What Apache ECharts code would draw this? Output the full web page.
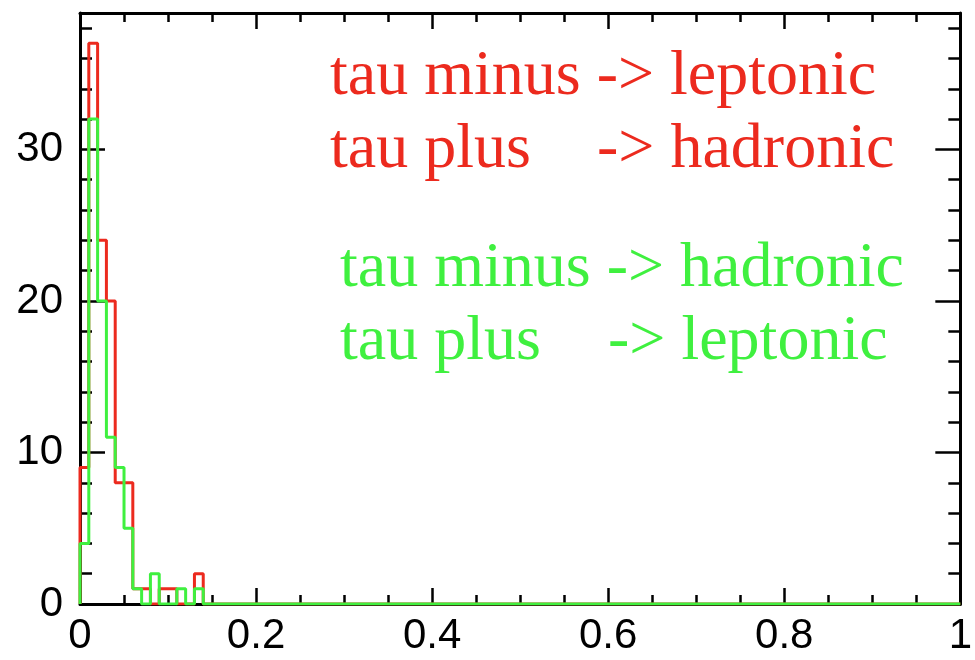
<!DOCTYPE html>
<html>
<head>
<meta charset="utf-8">
<script src="https://cdn.jsdelivr.net/npm/echarts@6/dist/echarts.min.js"></script>
<style>
  html, body { margin: 0; padding: 0; background: #ffffff; }
  #chart { width: 975px; height: 660px; }
</style>
</head>
<body>
<div id="chart"></div>
<script>
// Histogram bins (width 0.01); everything past the last bin is empty up to x = 1.
const binWidth = 0.01;
const binStarts = [0.00, 0.01, 0.02, 0.03, 0.04, 0.05, 0.06, 0.07, 0.08, 0.09, 0.10, 0.11, 0.12, 0.13];
// tau- -> leptonic, tau+ -> hadronic
const redCounts = [9, 37, 24, 20, 8, 8, 1, 1, 0, 1, 1, 0, 0, 2];
// tau- -> hadronic, tau+ -> leptonic
const greenCounts = [4, 32, 20, 11, 9, 5, 1, 0, 2, 0, 0, 1, 0, 1];

const xRange = [0, 1];
const yRange = [0, 39];

const RED = '#ec2a1e';
const GREEN = '#3ff03f';

// Step outline of a histogram: rise from zero at the first edge, one level per bin,
// back to zero after the last bin and flat to the end of the axis.
function stepPoints(starts, counts) {
  const pts = [[starts[0], 0]];
  starts.forEach((s, i) => pts.push([s, counts[i]]));
  pts.push([starts[starts.length - 1] + binWidth, 0]);
  pts.push([xRange[1], 0]);
  return pts;
}

const tickStyle = { color: '#000', width: 2.5 };
const lineStyleAxis = { color: '#000', width: 3 };
const labelFont = { color: '#000', fontFamily: 'Liberation Sans', fontSize: 42 };

function xAxisDef(position, withLabels) {
  return {
    type: 'value', position: position, min: xRange[0], max: xRange[1], interval: 0.2,
    axisLine: { show: true, onZero: false, lineStyle: lineStyleAxis },
    axisTick: { show: true, inside: true, length: 16, lineStyle: tickStyle },
    minorTick: { show: true, splitNumber: 4, length: 9, lineStyle: tickStyle },
    axisLabel: withLabels ? Object.assign({ show: true, margin: 11 }, labelFont) : { show: false },
    splitLine: { show: false }, minorSplitLine: { show: false }
  };
}

function yAxisDef(position, interval, tickLen, withLine, withLabels) {
  return {
    type: 'value', position: position, min: yRange[0], max: yRange[1], interval: interval,
    axisLine: { show: withLine, onZero: false, lineStyle: lineStyleAxis },
    axisTick: { show: true, inside: true, length: tickLen, lineStyle: tickStyle },
    axisLabel: withLabels ? Object.assign({
      show: true, margin: 17,
      formatter: v => (v % 10 === 0 ? String(v) : '')
    }, labelFont) : { show: false },
    splitLine: { show: false }
  };
}

const serifText = (text, x, y, color) => ({
  type: 'text', left: x, top: y,
  style: { text: text, fill: color, font: '64px "Liberation Serif"', textVerticalAlign: 'top' }
});

const chart = echarts.init(document.getElementById('chart'), null, { renderer: 'canvas' });
chart.setOption({
  animation: false,
  backgroundColor: '#ffffff',
  grid: { left: 80, right: 12, top: 13, bottom: 56 },
  xAxis: [xAxisDef('bottom', true), xAxisDef('top', false)],
  yAxis: [
    yAxisDef('left', 10, 25, true, true),
    yAxisDef('left', 2, 12, false, false),
    yAxisDef('right', 10, 25, true, false),
    yAxisDef('right', 2, 12, false, false)
  ],
  series: [
    {
      name: 'red', type: 'line', step: 'end', xAxisIndex: 0, yAxisIndex: 0,
      data: stepPoints(binStarts, redCounts), symbol: 'none',
      lineStyle: { color: RED, width: 3 }, z: 3
    },
    {
      name: 'green', type: 'line', step: 'end', xAxisIndex: 0, yAxisIndex: 0,
      data: stepPoints(binStarts, greenCounts), symbol: 'none',
      lineStyle: { color: GREEN, width: 3 }, z: 4
    }
  ],
  graphic: [
    serifText('tau minus -> leptonic', 330, 45, RED),
    serifText('tau plus', 330, 118, RED),
    serifText('-> hadronic', 597, 118, RED),
    serifText('tau minus -> hadronic', 340, 237, GREEN),
    serifText('tau plus', 340, 310, GREEN),
    serifText('-> leptonic', 608, 310, GREEN)
  ]
});
</script>
</body>
</html>
